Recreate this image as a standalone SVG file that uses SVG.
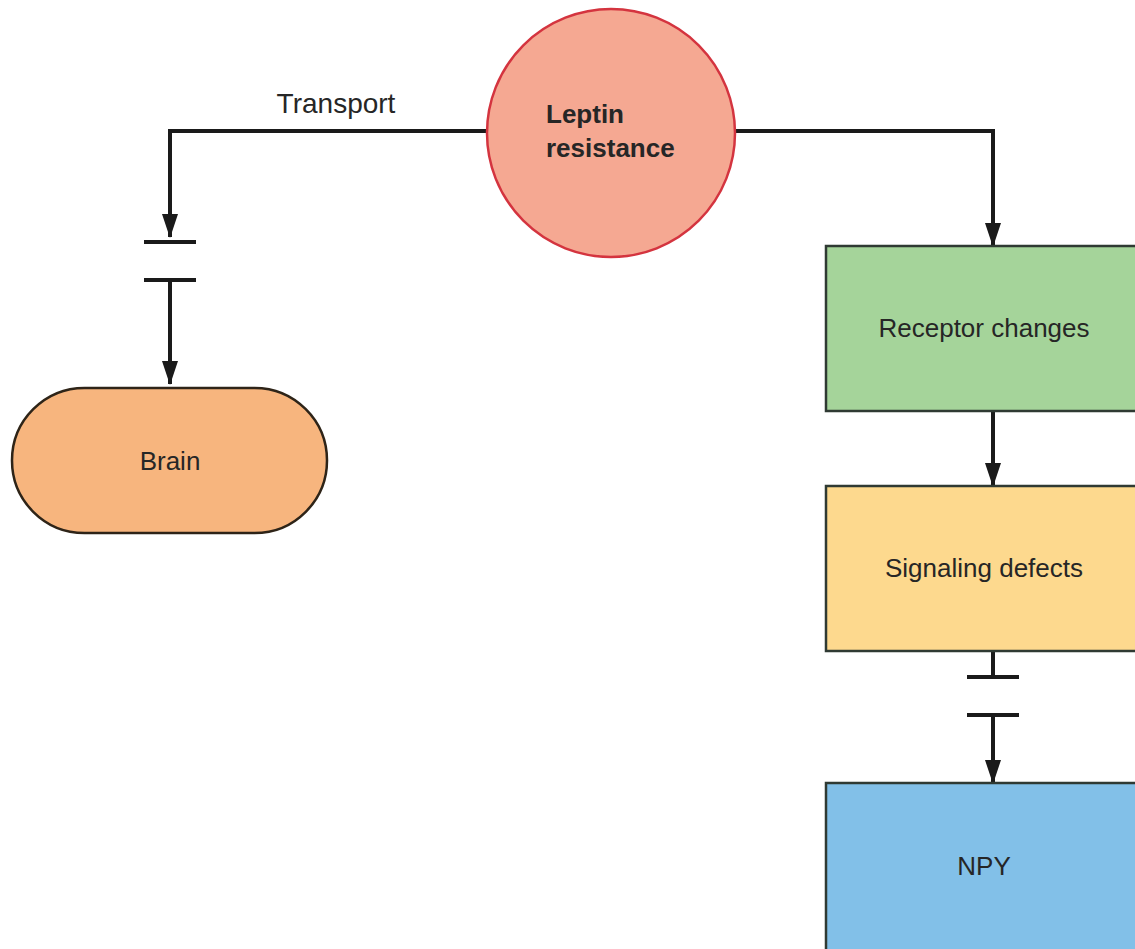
<svg xmlns="http://www.w3.org/2000/svg" width="1135" height="949" viewBox="0 0 1135 949">
<style>
.t{font-family:"Liberation Sans",Arial,sans-serif;font-size:26px;fill:#262626;text-anchor:middle}
.b{font-weight:bold;text-anchor:start}
.ln{fill:none;stroke:#1a1a1a;stroke-width:4}
.box{stroke:#2f3a33;stroke-width:2.5}
</style>
<defs>
<marker id="ah" viewBox="0 0 24 16" refX="23" refY="8" markerWidth="24" markerHeight="16" markerUnits="userSpaceOnUse" orient="auto">
<path d="M0,0 L24,8 L0,16 Z" fill="#1a1a1a"/>
</marker>
</defs>
<rect width="1135" height="949" fill="#fff"/>
<g id="connectors">
<polyline class="ln" points="487,131 170,131 170,237" marker-end="url(#ah)"/>
<line class="ln" x1="144" y1="242" x2="196" y2="242"/>
<line class="ln" x1="144" y1="280" x2="196" y2="280"/>
<line class="ln" x1="170" y1="280" x2="170" y2="384" marker-end="url(#ah)"/>
<polyline class="ln" points="735,131 993,131 993,246" marker-end="url(#ah)"/>
<line class="ln" x1="993" y1="411" x2="993" y2="486" marker-end="url(#ah)"/>
<line class="ln" x1="993" y1="651" x2="993" y2="677"/>
<line class="ln" x1="967" y1="677" x2="1019" y2="677"/>
<line class="ln" x1="967" y1="715" x2="1019" y2="715"/>
<line class="ln" x1="993" y1="715" x2="993" y2="783" marker-end="url(#ah)"/>
<text class="t" x="336" y="113" style="font-size:28px">Transport</text>
</g>
<g id="leptin">
<circle cx="611" cy="133" r="124" fill="#F5A892" stroke="#D4343F" stroke-width="2.5"/>
<text class="t b" x="546" y="123">Leptin</text>
<text class="t b" x="546" y="157">resistance</text>
</g>
<g id="brain">
<rect x="12" y="388" width="315" height="145" rx="72.5" ry="72.5" fill="#F7B57E" stroke="#2e2418" stroke-width="2.5"/>
<text class="t" x="170" y="470">Brain</text>
</g>
<g id="receptor">
<rect class="box" x="826" y="246" width="320" height="165" fill="#A5D49A"/>
<text class="t" x="984" y="337">Receptor changes</text>
</g>
<g id="signaling">
<rect class="box" x="826" y="486" width="320" height="165" fill="#FDD98E"/>
<text class="t" x="984" y="577">Signaling defects</text>
</g>
<g id="npy">
<rect class="box" x="826" y="783" width="320" height="175" fill="#82C0E8"/>
<text class="t" x="984" y="875">NPY</text>
</g>
</svg>
